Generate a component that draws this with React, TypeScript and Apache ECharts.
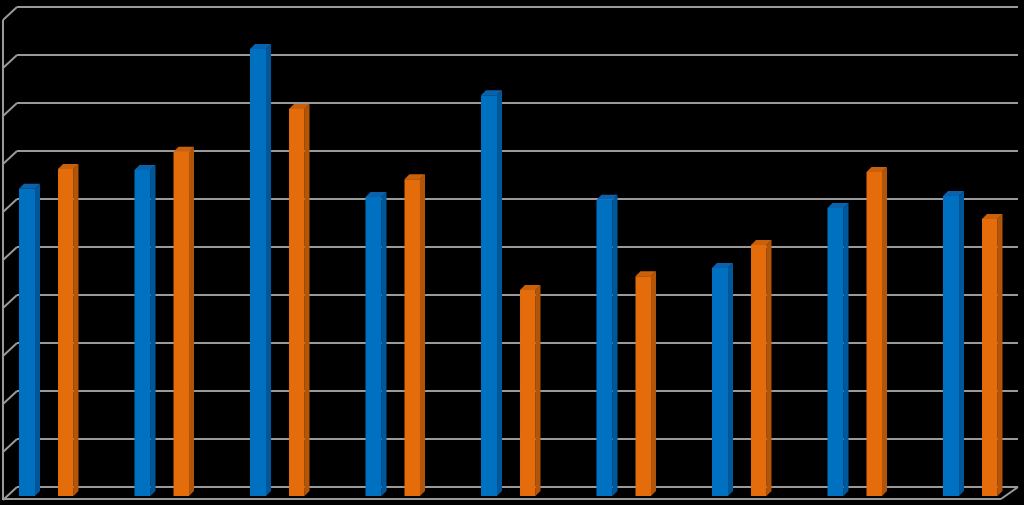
import React, { useEffect, useRef } from "react";
import * as echarts from "echarts";

const categories = ["1", "2", "3", "4", "5", "6", "7", "8", "9"];
const seriesA = [6.4, 6.79, 9.31, 6.23, 8.35, 6.17, 4.75, 6.0, 6.25];
const seriesB = [6.81, 7.17, 8.06, 6.6, 4.29, 4.58, 5.23, 6.75, 5.77];
const yTicks = [0, 1, 2, 3, 4, 5, 6, 7, 8, 9, 10];

const GRID_COLOR = "#9a9a9a";

function barRenderer(startFrac: number, widthFrac: number, colors: { front: string; side: string; top: string }) {
  return (params: any, api: any) => {
    const i = api.value(0);
    const v = api.value(1);
    const topPt = api.coord([i, v]);
    const basePt = api.coord([i, 0]);
    const bw = api.size([1, 0])[0];
    const x0 = topPt[0] + startFrac * bw;
    const w = widthFrac * bw;
    const x1 = x0 + w;
    const yt = topPt[1];
    const yb = basePt[1];
    const d = 5;
    return {
      type: "group",
      children: [
        {
          type: "polygon",
          shape: { points: [[x1, yt], [x1 + d, yt - d], [x1 + d, yb - d], [x1, yb]] },
          style: { fill: colors.side },
        },
        {
          type: "polygon",
          shape: { points: [[x0, yt], [x1, yt], [x1 + d, yt - d], [x0 + d, yt - d]] },
          style: { fill: colors.top },
        },
        {
          type: "rect",
          shape: { x: x0, y: yt, width: w, height: yb - yt },
          style: { fill: colors.front },
        },
      ],
    };
  };
}

export default function App() {
  const ref = useRef<HTMLDivElement>(null);
  useEffect(() => {
    document.body.style.margin = "0";
    document.body.style.background = "#000";
    const chart = echarts.init(ref.current!, null, { renderer: "svg" });
    const wallRender = (params: any, api: any) => {
      const v = api.value(0);
      const p = api.coord([0, v]);
      const children: any[] = [
        {
          type: "line",
          shape: { x1: p[0], y1: p[1], x2: p[0] - 14, y2: p[1] + 13 },
          style: { stroke: GRID_COLOR, lineWidth: 2 },
        },
      ];
      if (v === 0) {
        const top = api.coord([0, 10]);
        const right = api.coord([1, 0]);
        children.push(
          {
            type: "line",
            shape: { x1: p[0] - 14, y1: p[1] + 13, x2: top[0] - 14, y2: top[1] + 13 },
            style: { stroke: GRID_COLOR, lineWidth: 2 },
          },
          {
            type: "line",
            shape: { x1: p[0] - 14, y1: p[1] + 12, x2: right[0] - 17, y2: right[1] + 12 },
            style: { stroke: GRID_COLOR, lineWidth: 2 },
          },
          {
            type: "line",
            shape: { x1: right[0] - 17, y1: right[1] + 12, x2: right[0], y2: right[1] },
            style: { stroke: GRID_COLOR, lineWidth: 2 },
          }
        );
      }
      return { type: "group", children };
    };
    chart.setOption({
      animation: false,
      backgroundColor: "#000",
      grid: [
        { left: 17, right: 6, top: 7, bottom: 18 },
        { left: 3, right: 21, top: 16, bottom: 9 },
      ],
      xAxis: [
        { gridIndex: 0, type: "value", min: 0, max: 1, show: false },
        { gridIndex: 1, type: "value", min: -0.3723, max: 8.2857, show: false },
      ],
      yAxis: [
        {
          gridIndex: 0,
          type: "value",
          min: 0,
          max: 10,
          interval: 1,
          axisLine: { show: false },
          axisTick: { show: false },
          axisLabel: { show: false },
          splitLine: { show: true, lineStyle: { color: GRID_COLOR, width: 2 } },
        },
        { gridIndex: 1, type: "value", min: 0, max: 10, show: false },
      ],
      series: [
        {
          type: "custom",
          name: "walls",
          xAxisIndex: 0,
          yAxisIndex: 0,
          data: yTicks.map((t) => [t]),
          renderItem: wallRender,
          silent: true,
        },
        {
          type: "custom",
          name: "Series 1",
          xAxisIndex: 1,
          yAxisIndex: 1,
          data: seriesA.map((v, i) => [i, v, categories[i]]),
          renderItem: barRenderer(-0.234, 0.139, { front: "#0070c0", side: "#00579a", top: "#0a62ad" }),
        },
        {
          type: "custom",
          name: "Series 2",
          xAxisIndex: 1,
          yAxisIndex: 1,
          data: seriesB.map((v, i) => [i, v, categories[i]]),
          renderItem: barRenderer(0.104, 0.134, { front: "#e46c0a", side: "#b35508", top: "#c9600b" }),
        },
      ],
    });
    return () => chart.dispose();
  }, []);
  return <div ref={ref} style={{ position: "absolute", left: 0, top: 0, width: 1024, height: 505 }} />;
}
